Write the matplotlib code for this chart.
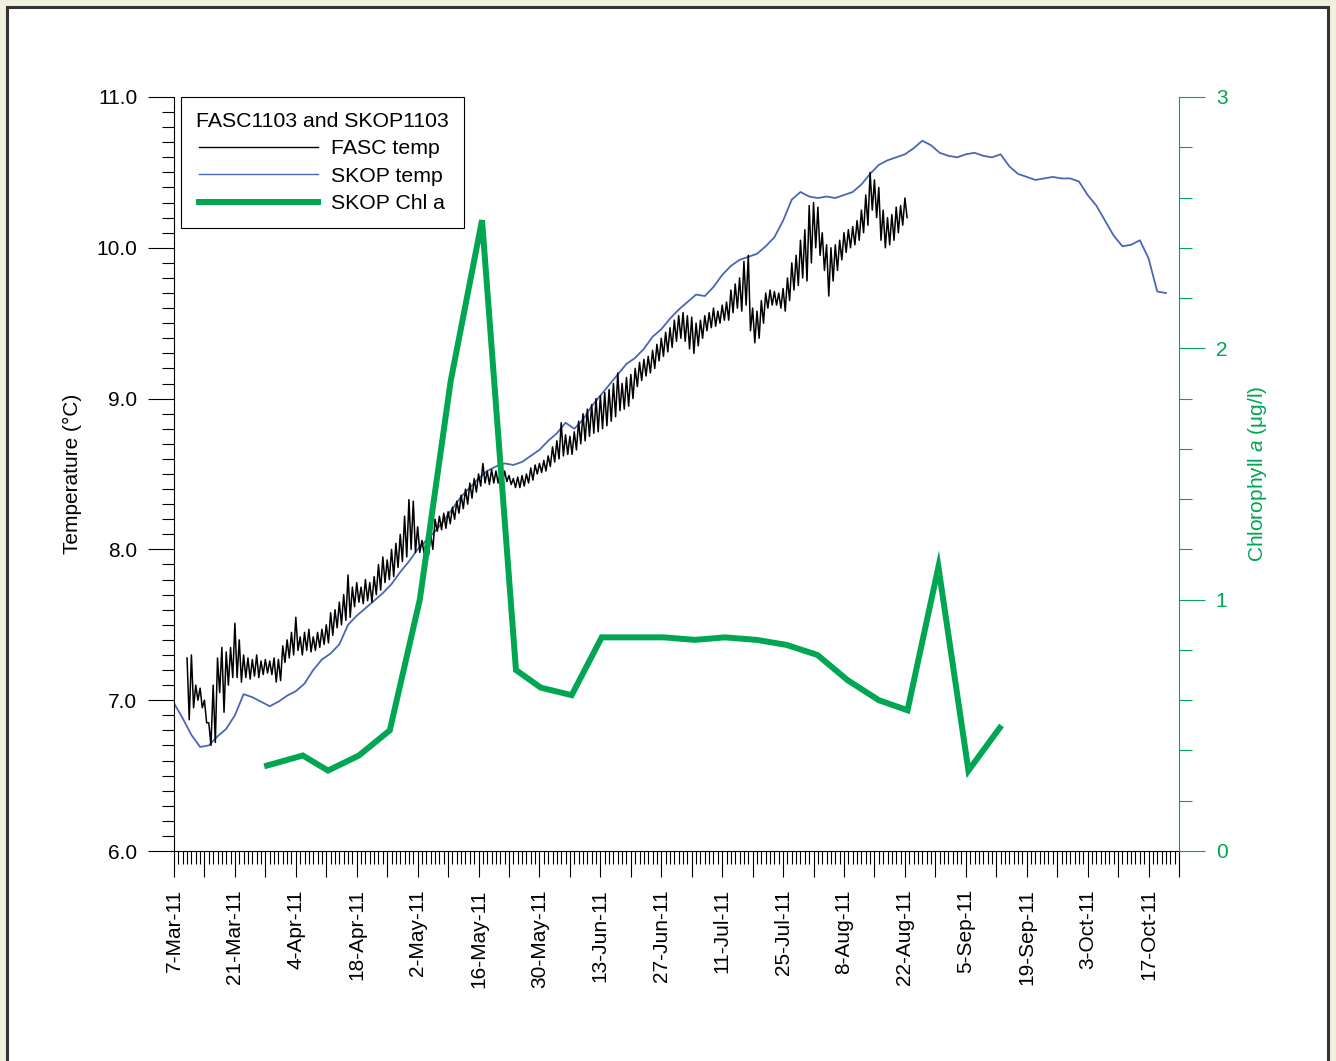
import matplotlib.pyplot as plt
from matplotlib.patches import Rectangle
from matplotlib.ticker import MultipleLocator
from matplotlib.lines import Line2D
import numpy as np

plt.rcParams['font.family'] = ['Liberation Sans', 'DejaVu Sans']
plt.rcParams['mathtext.fontset'] = 'custom'
plt.rcParams['mathtext.it'] = 'Liberation Sans:italic'
plt.rcParams['mathtext.rm'] = 'Liberation Sans'

# all x values are days since 7-Mar-2011

# SKOP temperature, one reading every 2 days from day 0
skop_temp = [6.98, 6.88, 6.77, 6.69, 6.70, 6.76, 6.81, 6.90, 7.04, 7.02,
             6.99, 6.96, 6.99, 7.03, 7.06, 7.11, 7.20, 7.27, 7.31, 7.37,
             7.50, 7.56, 7.61, 7.66, 7.71, 7.77, 7.85, 7.92, 8.00, 8.06,
             8.12, 8.19, 8.27, 8.35, 8.41, 8.47, 8.52, 8.55, 8.57, 8.56,
             8.58, 8.62, 8.66, 8.72, 8.77, 8.84, 8.80, 8.86, 8.95, 9.02,
             9.09, 9.16, 9.23, 9.27, 9.33, 9.41, 9.46, 9.53, 9.59, 9.64,
             9.69, 9.68, 9.74, 9.82, 9.88, 9.92, 9.94, 9.96, 10.01, 10.07,
             10.18, 10.32, 10.37, 10.34, 10.33, 10.34, 10.33, 10.35, 10.37, 10.42,
             10.49, 10.55, 10.58, 10.60, 10.62, 10.66, 10.71, 10.68, 10.63, 10.61,
             10.60, 10.62, 10.63, 10.61, 10.60, 10.62, 10.54, 10.49, 10.47, 10.45,
             10.46, 10.47, 10.46, 10.46, 10.44, 10.35, 10.28, 10.18, 10.08, 10.01,
             10.02, 10.05, 9.93, 9.71, 9.70]

# FASC temperature, daily high and low from day 3
fasc_hi = [7.28, 7.30, 7.10, 7.08, 7.00, 6.85, 7.10, 7.28, 7.35, 7.32,
           7.35, 7.51, 7.40, 7.30, 7.28, 7.27, 7.30, 7.26, 7.27, 7.26,
           7.28, 7.27, 7.36, 7.40, 7.45, 7.55, 7.42, 7.45, 7.47, 7.42,
           7.45, 7.47, 7.50, 7.58, 7.60, 7.65, 7.70, 7.83, 7.75, 7.78,
           7.75, 7.80, 7.78, 7.82, 7.90, 7.95, 7.93, 8.00, 8.04, 8.10,
           8.22, 8.33, 8.32, 8.15, 8.06, 8.06, 8.10, 8.20, 8.22, 8.24,
           8.25, 8.28, 8.32, 8.36, 8.40, 8.44, 8.47, 8.50, 8.57, 8.52,
           8.53, 8.52, 8.51, 8.52, 8.49, 8.47, 8.48, 8.49, 8.50, 8.54,
           8.56, 8.57, 8.59, 8.62, 8.68, 8.72, 8.84, 8.76, 8.75, 8.78,
           8.85, 8.90, 8.93, 8.96, 9.00, 9.02, 9.04, 9.06, 9.10, 9.17,
           9.10, 9.14, 9.16, 9.20, 9.24, 9.26, 9.28, 9.32, 9.36, 9.40,
           9.44, 9.47, 9.52, 9.55, 9.57, 9.55, 9.54, 9.50, 9.52, 9.55,
           9.57, 9.60, 9.58, 9.62, 9.64, 9.72, 9.76, 9.80, 9.91, 9.95,
           9.60, 9.58, 9.65, 9.70, 9.72, 9.71, 9.70, 9.73, 9.80, 9.90,
           9.95, 10.05, 10.12, 10.28, 10.30, 10.27, 10.10, 10.02, 10.00, 10.02,
           10.05, 10.10, 10.12, 10.14, 10.18, 10.25, 10.35, 10.50, 10.45, 10.40,
           10.25, 10.20, 10.22, 10.27, 10.28, 10.33]
fasc_lo = [6.87, 6.95, 7.00, 6.95, 6.85, 6.70, 6.72, 7.05, 6.92, 7.10,
           7.15, 7.15, 7.12, 7.15, 7.14, 7.16, 7.15, 7.17, 7.18, 7.17,
           7.12, 7.13, 7.25, 7.28, 7.30, 7.33, 7.30, 7.33, 7.32, 7.33,
           7.35, 7.37, 7.38, 7.43, 7.48, 7.50, 7.53, 7.55, 7.62, 7.65,
           7.64, 7.66, 7.65, 7.70, 7.73, 7.78, 7.80, 7.82, 7.88, 7.92,
           7.95, 8.00, 7.98, 7.98, 7.97, 7.96, 8.00, 8.12, 8.13, 8.14,
           8.17, 8.20, 8.24, 8.27, 8.30, 8.34, 8.38, 8.42, 8.44, 8.43,
           8.44, 8.44, 8.44, 8.45, 8.43, 8.41, 8.41, 8.42, 8.44, 8.46,
           8.50, 8.51, 8.52, 8.55, 8.58, 8.60, 8.62, 8.63, 8.63, 8.66,
           8.70, 8.72, 8.75, 8.77, 8.78, 8.80, 8.82, 8.85, 8.88, 8.92,
           8.93, 8.95, 9.00, 9.08, 9.12, 9.15, 9.17, 9.20, 9.25, 9.28,
           9.31, 9.34, 9.38, 9.40, 9.38, 9.33, 9.30, 9.35, 9.40, 9.45,
           9.47, 9.48, 9.50, 9.52, 9.52, 9.57, 9.60, 9.58, 9.62, 9.45,
           9.37, 9.40, 9.50, 9.60, 9.62, 9.62, 9.60, 9.58, 9.65, 9.72,
           9.75, 9.80, 9.78, 9.90, 10.00, 9.95, 9.85, 9.68, 9.78, 9.85,
           9.92, 9.97, 10.00, 10.02, 10.05, 10.10, 10.15, 10.25, 10.20, 10.05,
           10.00, 10.02, 10.05, 10.10, 10.15, 10.20]

# SKOP chlorophyll a samples
chl_day = [21.4, 29.6, 35.4, 42.5, 49.6, 56.5, 63.6, 70.8, 78.6, 84.3,
           91.4, 98.3, 105.4, 112.6, 119.7, 126.6, 133.9, 140.8, 147.9, 154.8,
           162.0, 168.6, 175.7, 182.6, 189.8]
chl = [0.34, 0.38, 0.32, 0.38, 0.48, 1.00, 1.87, 2.51, 0.72, 0.65,
       0.62, 0.85, 0.85, 0.85, 0.84, 0.85, 0.84, 0.82, 0.78, 0.68,
       0.60, 0.56, 1.13, 0.32, 0.49]

date_labels = ['7-Mar-11', '21-Mar-11', '4-Apr-11', '18-Apr-11', '2-May-11',
               '16-May-11', '30-May-11', '13-Jun-11', '27-Jun-11', '11-Jul-11',
               '25-Jul-11', '8-Aug-11', '22-Aug-11', '5-Sep-11', '19-Sep-11',
               '3-Oct-11', '17-Oct-11']

green = '#00a651'
blue = '#4a66b8'
fs = 15

skop_day = np.arange(len(skop_temp)) * 2
fasc_day = np.arange(len(fasc_hi)) + 3
fd = np.column_stack([fasc_day, fasc_day + 0.5]).ravel()
fv = np.column_stack([fasc_hi, fasc_lo]).ravel()

fig = plt.figure(figsize=(13.36, 10.61), dpi=100, facecolor='#f0f0dc')
fig.patches.append(Rectangle((6.5 / 1336, -0.02), 1321.5 / 1336, 1.02 + 1054.5 / 1061 - 1,
                             transform=fig.transFigure, facecolor='white',
                             edgecolor='#333333', linewidth=2.2, zorder=-10))

ax = fig.add_axes([174 / 1336, 210 / 1061, 1005 / 1336, 754 / 1061])
ax.set_facecolor('none')
ax.plot(skop_day, skop_temp, color=blue, lw=1.3)
ax.plot(fd, fv, color='black', lw=1.1)

ax.set_xlim(0, 231)
ax.set_ylim(6, 11)
ax.spines['top'].set_visible(False)
ax.spines['right'].set_visible(False)
for s in ['left', 'bottom']:
    ax.spines[s].set_linewidth(0.8)

ax.yaxis.set_minor_locator(MultipleLocator(0.1))
ax.set_yticks([6, 7, 8, 9, 10, 11])
ax.set_yticklabels(['6.0', '7.0', '8.0', '9.0', '10.0', '11.0'])
xt = np.arange(0, 232, 7)
ax.set_xticks(xt)
ax.set_xticklabels([date_labels[i // 2] if i % 2 == 0 else '' for i in range(len(xt))],
                   rotation=90)
ax.xaxis.set_minor_locator(MultipleLocator(1))
ax.tick_params(axis='both', which='major', direction='out', length=18.5, width=0.8, labelsize=fs)
ax.tick_params(axis='both', which='minor', direction='out', length=9, width=0.8)
ax.tick_params(axis='y', which='major', pad=8)
ax.tick_params(axis='x', which='major', pad=9)
ax.set_ylabel('Temperature (°C)', fontsize=fs)
ax.yaxis.set_label_coords(-0.0915, 0.5)

ax2 = ax.twinx()
ax2.set_facecolor('none')
ax2.plot(chl_day, chl, color=green, lw=4.3, solid_joinstyle='miter')
ax2.set_ylim(0, 3)
for s in ['top', 'left', 'bottom']:
    ax2.spines[s].set_visible(False)
ax2.spines['right'].set_color(green)
ax2.spines['right'].set_linewidth(0.8)
ax2.yaxis.set_major_locator(MultipleLocator(1))
ax2.yaxis.set_minor_locator(MultipleLocator(0.2))
ax2.tick_params(axis='y', which='major', direction='out', length=18.5, width=0.8,
                color=green, labelcolor=green, labelsize=fs, pad=8)
ax2.tick_params(axis='y', which='minor', direction='out', length=9, width=0.8, color=green)
ax2.set_ylabel(r'Chlorophyll $a$ (μg/l)', fontsize=fs, color=green)
ax2.yaxis.set_label_coords(1.0666, 0.5)

handles = [Line2D([], [], color='black', lw=1.0),
           Line2D([], [], color=blue, lw=1.0),
           Line2D([], [], color=green, lw=4.3)]
leg = ax2.legend(handles, ['FASC temp', 'SKOP temp', 'SKOP Chl a'],
                 title='FASC1103 and SKOP1103', title_fontsize=15.3, fontsize=15.3,
                 loc='upper left', bbox_to_anchor=(0.007, 1.0), borderaxespad=0,
                 fancybox=False, framealpha=1, edgecolor='black',
                 handlelength=5.6, handletextpad=0.6, labelspacing=0.4,
                 borderpad=0.7)
leg.get_frame().set_linewidth(0.8)

fig.savefig('out.png', dpi=100, facecolor=fig.get_facecolor())
